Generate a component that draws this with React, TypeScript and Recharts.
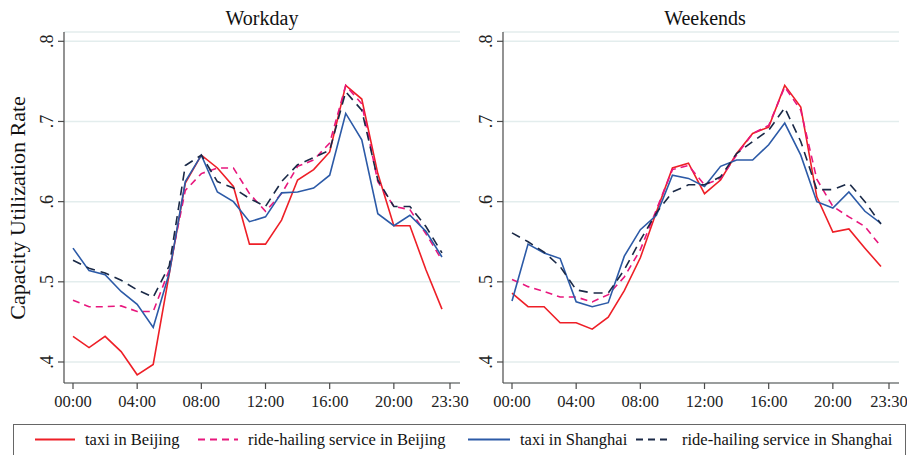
import React from 'react';
import { CartesianGrid, Line, LineChart, XAxis, YAxis } from 'recharts';

const hours = [0, 1, 2, 3, 4, 5, 6, 7, 8, 9, 10, 11, 12, 13, 14, 15, 16, 17, 18, 19, 20, 21, 22, 23];
const xTicks = [0, 4, 8, 12, 16, 20, 23.5];
const yTicks = [0.4, 0.5, 0.6, 0.7, 0.8];

// Workday
const taxiBJWorkday = [0.432, 0.418, 0.432, 0.413, 0.384, 0.397, 0.51, 0.623, 0.658, 0.642, 0.619, 0.547, 0.547, 0.577, 0.627, 0.64, 0.662, 0.745, 0.728, 0.635, 0.57, 0.57, 0.515, 0.466];
const rideBJWorkday = [0.477, 0.469, 0.469, 0.47, 0.463, 0.463, 0.515, 0.614, 0.635, 0.642, 0.642, 0.61, 0.588, 0.61, 0.644, 0.652, 0.673, 0.745, 0.722, 0.625, 0.594, 0.59, 0.56, 0.527];
const taxiSHWorkday = [0.542, 0.514, 0.509, 0.488, 0.472, 0.443, 0.511, 0.625, 0.658, 0.612, 0.6, 0.575, 0.581, 0.611, 0.612, 0.617, 0.633, 0.71, 0.677, 0.585, 0.57, 0.583, 0.563, 0.531];
const rideSHWorkday = [0.527, 0.517, 0.511, 0.502, 0.49, 0.481, 0.52, 0.645, 0.658, 0.625, 0.617, 0.604, 0.594, 0.625, 0.646, 0.655, 0.664, 0.737, 0.714, 0.627, 0.594, 0.594, 0.569, 0.536];

// Weekends
const taxiBJWeekend = [0.486, 0.469, 0.469, 0.449, 0.449, 0.441, 0.456, 0.489, 0.53, 0.587, 0.642, 0.648, 0.61, 0.627, 0.66, 0.685, 0.693, 0.745, 0.718, 0.606, 0.562, 0.566, 0.542, 0.519];
const rideBJWeekend = [0.503, 0.494, 0.488, 0.481, 0.481, 0.475, 0.484, 0.506, 0.54, 0.59, 0.64, 0.645, 0.621, 0.629, 0.658, 0.685, 0.695, 0.743, 0.714, 0.628, 0.594, 0.581, 0.569, 0.544];
const taxiSHWeekend = [0.476, 0.547, 0.536, 0.529, 0.475, 0.469, 0.474, 0.532, 0.565, 0.583, 0.633, 0.629, 0.619, 0.644, 0.652, 0.652, 0.671, 0.698, 0.658, 0.6, 0.592, 0.612, 0.588, 0.573];
const rideSHWeekend = [0.561, 0.55, 0.537, 0.519, 0.49, 0.486, 0.486, 0.515, 0.552, 0.586, 0.612, 0.621, 0.621, 0.631, 0.66, 0.675, 0.689, 0.717, 0.675, 0.615, 0.615, 0.623, 0.6, 0.572];

const FONT = '"Liberation Serif", "Times New Roman", serif';
const RED = '#ee1f27';
const PINK = '#e8177d';
const BLUE = '#2c5aa7';
const NAVY = '#1a2947';
const AXIS = '#4a4a4a';

const SERIES = [
  { key: 'taxiBJ', name: 'taxi in Beijing', color: RED, dash: undefined },
  { key: 'rideBJ', name: 'ride-hailing service in Beijing', color: PINK, dash: '7 5' },
  { key: 'taxiSH', name: 'taxi in Shanghai', color: BLUE, dash: undefined },
  { key: 'rideSH', name: 'ride-hailing service in Shanghai', color: NAVY, dash: '9 6' },
];

const buildRows = (a: number[], b: number[], c: number[], d: number[]) =>
  hours.map((h, i) => ({ h, taxiBJ: a[i], rideBJ: b[i], taxiSH: c[i], rideSH: d[i] }));

const workdayRows = buildRows(taxiBJWorkday, rideBJWorkday, taxiSHWorkday, rideSHWorkday);
const weekendRows = buildRows(taxiBJWeekend, rideBJWeekend, taxiSHWeekend, rideSHWeekend);

const fmtHour = (h: number) => (h === 23.5 ? '23:30' : `${String(h).padStart(2, '0')}:00`);

function YTick({ x, y, payload }: any) {
  return (
    <text
      x={x}
      y={y}
      transform={`rotate(-90 ${x} ${y})`}
      textAnchor="middle"
      fontSize={18}
      fontFamily={FONT}
      fill="#222"
    >
      {'.' + Math.round(payload.value * 10)}
    </text>
  );
}

function Panel({ rows }: { rows: any[] }) {
  return (
    <LineChart width={470} height={415} data={rows} margin={{ top: 32, right: 10, left: 24, bottom: 0 }}>
      <CartesianGrid vertical={false} stroke="#e3eded" strokeWidth={1.5} />
      <XAxis
        dataKey="h"
        type="number"
        domain={[0, 23.5]}
        ticks={xTicks}
        tickFormatter={fmtHour}
        padding={{ left: 9, right: 10 }}
        height={32}
        tickSize={6}
        tickMargin={6}
        stroke={AXIS}
        strokeWidth={1.2}
        tick={{ fontSize: 16.5, fontFamily: FONT, fill: '#222' }}
      />
      {/* axis runs a little past .4 and .8, like the original */}
      <YAxis
        type="number"
        domain={[0.3738, 0.8116]}
        allowDataOverflow
        ticks={yTicks}
        width={40}
        tickSize={6}
        tickMargin={5}
        stroke={AXIS}
        strokeWidth={1.2}
        tick={<YTick />}
      />
      {SERIES.map((s) => (
        <Line
          key={s.key}
          dataKey={s.key}
          stroke={s.color}
          strokeWidth={1.6}
          strokeDasharray={s.dash}
          dot={false}
          isAnimationActive={false}
          type="linear"
        />
      ))}
    </LineChart>
  );
}

// legend sample positions (x of line start, line end, text start)
const legendPos = [
  [35, 75, 85],
  [198, 238, 248],
  [468, 510, 520],
  [636, 672, 682],
];

export default function App() {
  return (
    <div
      style={{
        position: 'absolute',
        left: 0,
        top: 0,
        width: 907,
        height: 455,
        overflow: 'hidden',
        background: '#fff',
        fontFamily: FONT,
      }}
    >
      <div style={{ position: 'absolute', left: 0, top: 0 }}>
        <Panel rows={workdayRows} />
      </div>
      <div style={{ position: 'absolute', left: 439, top: 0 }}>
        <Panel rows={weekendRows} />
      </div>
      <svg width={907} height={455} style={{ position: 'absolute', left: 0, top: 0, pointerEvents: 'none' }}>
        <text x={262} y={25} textAnchor="middle" fontSize={20} fontFamily={FONT} fill="#111">
          Workday
        </text>
        <text x={705} y={25} textAnchor="middle" fontSize={20} fontFamily={FONT} fill="#111">
          Weekends
        </text>
        <text
          x={25}
          y={208}
          transform="rotate(-90 25 208)"
          textAnchor="middle"
          fontSize={22}
          fontFamily={FONT}
          fill="#111"
        >
          Capacity Utilization Rate
        </text>
        <rect x={13.5} y={424.5} width={892} height={40} fill="#fff" stroke="#666" strokeWidth={1} />
        {SERIES.map((s, i) => {
          const [x1, x2, tx] = legendPos[i];
          return (
            <g key={s.key}>
              <line x1={x1} x2={x2} y1={439.5} y2={439.5} stroke={s.color} strokeWidth={2} strokeDasharray={s.dash ? '7 5' : undefined} />
              <text x={tx} y={445} fontSize={16.5} fontFamily={FONT} fill="#111">
                {s.name}
              </text>
            </g>
          );
        })}
      </svg>
    </div>
  );
}
